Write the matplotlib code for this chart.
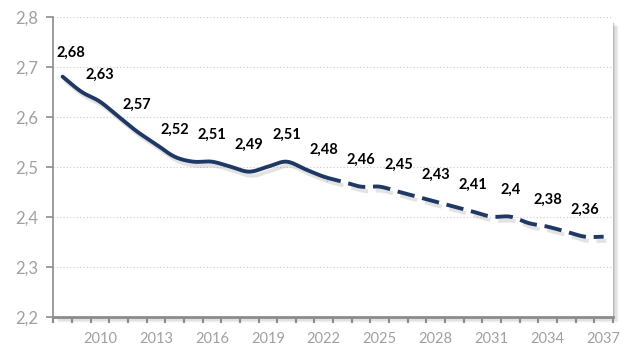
import numpy as np
import matplotlib
matplotlib.use("Agg")
import matplotlib.pyplot as plt
import matplotlib.patheffects as pe
from matplotlib.patches import Rectangle

# yearly values; labels are shown on every second year
years = list(range(2008, 2038))
values = [2.68, 2.65, 2.63, 2.60, 2.57, 2.545, 2.52, 2.51, 2.51, 2.50,
          2.49, 2.50, 2.51, 2.495, 2.48, 2.47, 2.46, 2.46, 2.45, 2.44,
          2.43, 2.42, 2.41, 2.40, 2.40, 2.387, 2.38, 2.37, 2.36, 2.36]
label_years = list(range(2008, 2037, 2))
forecast_from = 2022
y_ticks = [2.2, 2.3, 2.4, 2.5, 2.6, 2.7, 2.8]
x_tick_years = list(range(2010, 2038, 3))

navy = "#203864"
grey = "#8c8c8c"
plt.rcParams['font.family'] = ['Lato', 'DejaVu Sans']


def smooth(xs, ys, n=12):
    # catmull-rom spline through the points, like a "smoothed line" chart
    xs = np.asarray(xs, float)
    ys = np.asarray(ys, float)
    px = np.concatenate([[2 * xs[0] - xs[1]], xs, [2 * xs[-1] - xs[-2]]])
    py = np.concatenate([[2 * ys[0] - ys[1]], ys, [2 * ys[-1] - ys[-2]]])
    ox, oy = [], []
    for i in range(1, len(px) - 2):
        t = np.linspace(0, 1, n, endpoint=False)
        for p, out in ((px, ox), (py, oy)):
            p0, p1, p2, p3 = p[i - 1], p[i], p[i + 1], p[i + 2]
            out.extend(0.5 * ((2 * p1) + (-p0 + p2) * t
                              + (2 * p0 - 5 * p1 + 4 * p2 - p3) * t ** 2
                              + (-p0 + 3 * p1 - 3 * p2 + p3) * t ** 3))
    ox.append(xs[-1])
    oy.append(ys[-1])
    return np.array(ox), np.array(oy)


fig = plt.figure(figsize=(6.3, 3.47), dpi=100)
ax = fig.add_axes([0.0846, 0.0873, 0.8884, 0.8647])
ax.set_zorder(2)

# soft drop shadow of the plot area
for k, a in enumerate([0.10, 0.08, 0.06, 0.04, 0.02]):
    d = (k + 1) * 1.2
    fig.patches.append(Rectangle((53 + d, 347 - 317 - d), 560, 296,
                                 transform=None, facecolor="#000000",
                                 alpha=a, edgecolor="none", zorder=0))
fig.patches.append(Rectangle((53, 30), 560, 302, transform=None,
                             facecolor="white", edgecolor="none", zorder=0.5))
ax.set_facecolor("none")

xs = np.arange(len(years))
sx, sy = smooth(xs, values)
split = years.index(forecast_from)
shadow = [pe.SimpleLineShadow(offset=(2, -3), alpha=0.16, shadow_color="#555555"),
          pe.Normal()]
solid = sx <= split
ax.plot(sx[solid], sy[solid], color=navy, lw=2.8, solid_capstyle="round",
        path_effects=shadow, zorder=3)
dashed = sx >= split
ax.plot(sx[dashed], sy[dashed], color=navy, lw=2.8, dashes=(4.5, 2),
        dash_capstyle="butt", path_effects=shadow, zorder=3)

for yr in label_years:
    i = years.index(yr)
    dx = 6 if i == 0 else 0
    ax.annotate(f"{values[i]:g}".replace(".", ","), (i, values[i]),
                xytext=(dx, 17 if i == 0 else 19.5), textcoords="offset points",
                ha="center", va="center", fontsize=10.5, fontweight="bold",
                color="black", zorder=4)

ax.set_xlim(-0.5, len(years) - 0.5)
ax.set_ylim(2.2, 2.8)
ax.set_yticks(y_ticks)
ax.set_yticklabels([f"{v:.1f}".replace(".", ",") for v in y_ticks],
                   fontsize=12, color="#a0a0a0")
ax.set_xticks(np.arange(-0.5, len(years), 1), minor=False)
ax.set_xticklabels([])
ax.set_xticks([years.index(y) for y in x_tick_years], minor=True)
ax.set_xticklabels([str(y) for y in x_tick_years], minor=True,
                   fontsize=10.5, color="#a0a0a0")
ax.tick_params(axis="x", which="major", length=4, width=1.5, color=grey)
ax.tick_params(axis="x", which="minor", length=0, pad=11)
ax.tick_params(axis="y", length=5, width=1.2, color=grey, pad=6)

for y in y_ticks[1:]:
    ax.axhline(y, color="#c8c8c8", lw=0.8, ls=(0, (1, 2)), zorder=1)

ax.spines["top"].set_visible(False)
ax.spines["right"].set_visible(False)
ax.spines["left"].set_color(grey)
ax.spines["left"].set_linewidth(1.2)
ax.spines["bottom"].set_color(grey)
ax.spines["bottom"].set_linewidth(2)

fig.savefig("out.png", dpi=100)
